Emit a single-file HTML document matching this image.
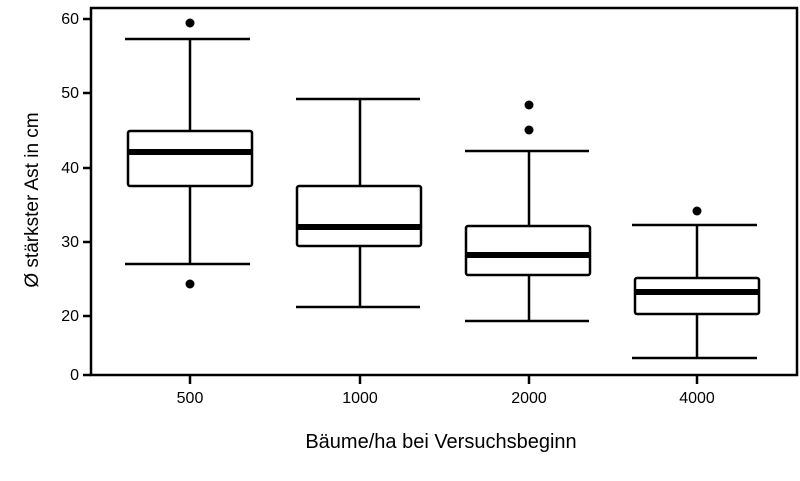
<!DOCTYPE html>
<html><head><meta charset="utf-8"><style>body{margin:0;background:#fff}</style></head><body>
<svg width="800" height="476" xmlns="http://www.w3.org/2000/svg" font-family="Liberation Sans, DejaVu Sans, sans-serif">
<rect x="91" y="8" width="706" height="367" fill="none" stroke="#000" stroke-width="2.5"/>
<g stroke="#000" stroke-width="2.5">
<line x1="83" y1="19" x2="91" y2="19"/><line x1="83" y1="93" x2="91" y2="93"/><line x1="83" y1="168" x2="91" y2="168"/><line x1="83" y1="242" x2="91" y2="242"/><line x1="83" y1="316" x2="91" y2="316"/><line x1="83" y1="375" x2="91" y2="375"/>
<line x1="190" y1="375" x2="190" y2="384"/><line x1="360" y1="375" x2="360" y2="384"/><line x1="529" y1="375" x2="529" y2="384"/><line x1="697" y1="375" x2="697" y2="384"/>
</g>
<g font-size="16" text-anchor="end" fill="#000">
<text x="79" y="24">60</text><text x="79" y="98">50</text><text x="79" y="173">40</text><text x="79" y="247">30</text><text x="79" y="321">20</text><text x="79" y="380">0</text>
</g>
<g font-size="16" text-anchor="middle" fill="#000">
<text x="190" y="403">500</text><text x="360" y="403">1000</text><text x="529" y="403">2000</text><text x="697" y="403">4000</text>
<text x="441" y="448" font-size="20">Bäume/ha bei Versuchsbeginn</text>
<text transform="translate(38,200) rotate(-90)" font-size="19">Ø stärkster Ast in cm</text>
</g>
<g stroke="#000" stroke-width="2.5" fill="#fff">
<line x1="190" y1="39" x2="190" y2="131"/><line x1="190" y1="186" x2="190" y2="264"/>
<line x1="125" y1="39" x2="250" y2="39"/><line x1="125" y1="264" x2="250" y2="264"/>
<rect x="128" y="131" width="124" height="55" rx="2"/>
<line x1="128" y1="152" x2="252" y2="152" stroke-width="6"/>
<line x1="360" y1="99" x2="360" y2="186"/><line x1="360" y1="246" x2="360" y2="307"/>
<line x1="296" y1="99" x2="420" y2="99"/><line x1="296" y1="307" x2="420" y2="307"/>
<rect x="297" y="186" width="124" height="60" rx="2"/>
<line x1="297" y1="227" x2="421" y2="227" stroke-width="6"/>
<line x1="529" y1="151" x2="529" y2="226"/><line x1="529" y1="275" x2="529" y2="321"/>
<line x1="465" y1="151" x2="589" y2="151"/><line x1="465" y1="321" x2="589" y2="321"/>
<rect x="466" y="226" width="124" height="49" rx="2"/>
<line x1="466" y1="255" x2="590" y2="255" stroke-width="6"/>
<line x1="697" y1="225" x2="697" y2="278"/><line x1="697" y1="314" x2="697" y2="358"/>
<line x1="632" y1="225" x2="757" y2="225"/><line x1="632" y1="358" x2="757" y2="358"/>
<rect x="635" y="278" width="124" height="36" rx="2"/>
<line x1="635" y1="292" x2="759" y2="292" stroke-width="6"/>
</g>
<g fill="#000">
<circle cx="190" cy="23" r="4.5"/><circle cx="190" cy="284" r="4.5"/>
<circle cx="529" cy="105" r="4.5"/><circle cx="529" cy="130" r="4.5"/>
<circle cx="697" cy="211" r="4.5"/>
</g>
</svg>
</body></html>
